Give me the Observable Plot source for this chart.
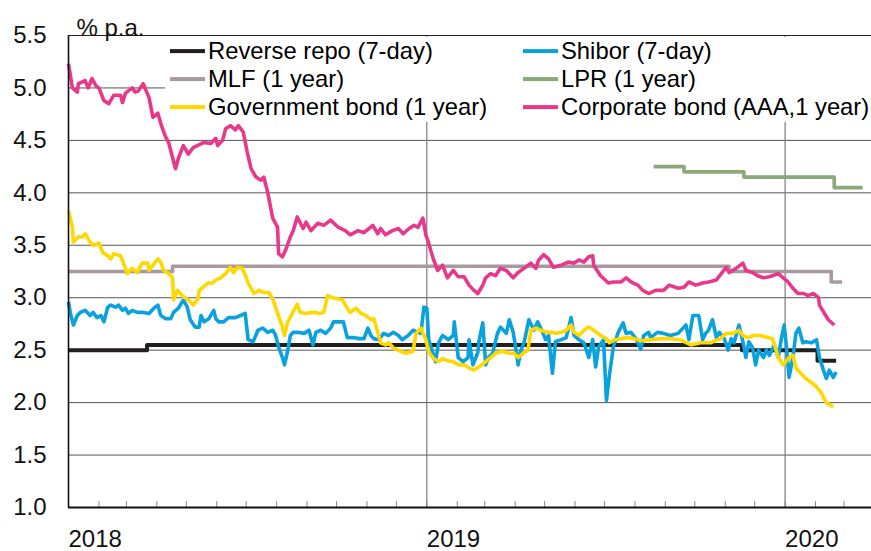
<!DOCTYPE html>
<html><head><meta charset="utf-8">
<script src="https://cdn.jsdelivr.net/npm/d3@7"></script>
<script src="https://cdn.jsdelivr.net/npm/@observablehq/plot@0.6"></script>
<style>
body{margin:0;background:#fff;font-family:"Liberation Sans",Arial,sans-serif;}
#wrap{position:relative;width:871px;height:551px;overflow:hidden;}
#legend{position:absolute;left:165px;top:37px;width:706px;height:85px;background:#fff;z-index:2;}
.item{position:absolute;display:flex;align-items:center;font-size:23.8px;color:#000;white-space:nowrap;line-height:1;transform:translateY(-50%);}
.sw{display:inline-block;width:35px;height:4px;margin-right:3px;}
</style></head><body><div id="wrap"><div id="legend"></div></div>
<script>
// ---------- data ----------
const yTicks = [1.0, 1.5, 2.0, 2.5, 3.0, 3.5, 4.0, 4.5, 5.0, 5.5];
const yearTicks = ["2018-01-01", "2019-01-01", "2020-01-01"];
const yearLines = ["2019-01-01", "2020-01-01"];
const xDomain = ["2018-01-01", "2020-03-29"];

const reverseRepo = [["2018-01-01",2.50],["2018-03-22",2.55],["2019-11-18",2.50],["2020-02-03",2.40],["2020-02-22",2.40]];
const mlf = [["2018-01-01",3.25],["2018-04-17",3.30],["2019-11-05",3.25],["2020-02-17",3.15],["2020-02-28",3.15]];
const lpr = [["2019-08-20",4.25],["2019-09-20",4.20],["2019-11-20",4.15],["2020-02-20",4.05],["2020-03-20",4.05]];

const shibor = [["2018-01-01",2.96],["2018-01-03",2.85],["2018-01-06",2.74],["2018-01-10",2.83],["2018-01-13",2.86],["2018-01-18",2.88],["2018-01-23",2.83],["2018-01-26",2.86],["2018-01-30",2.81],["2018-02-03",2.83],["2018-02-06",2.77],["2018-02-10",2.91],["2018-02-13",2.93],["2018-02-18",2.91],["2018-02-21",2.93],["2018-02-25",2.88],["2018-02-28",2.90],["2018-03-03",2.85],["2018-03-07",2.88],["2018-03-12",2.86],["2018-03-18",2.86],["2018-03-24",2.85],["2018-03-29",2.90],["2018-04-02",2.93],["2018-04-05",2.83],["2018-04-10",2.80],["2018-04-15",2.80],["2018-04-18",2.86],["2018-04-23",2.90],["2018-04-28",2.98],["2018-05-02",2.91],["2018-05-05",2.79],["2018-05-10",2.72],["2018-05-14",2.72],["2018-05-16",2.83],["2018-05-19",2.77],["2018-05-24",2.80],["2018-05-29",2.88],["2018-05-31",2.80],["2018-06-03",2.77],["2018-06-08",2.77],["2018-06-13",2.81],["2018-06-20",2.81],["2018-06-25",2.83],["2018-06-30",2.85],["2018-07-03",2.60],["2018-07-08",2.58],["2018-07-13",2.69],["2018-07-18",2.71],["2018-07-23",2.67],["2018-07-28",2.69],["2018-07-31",2.64],["2018-08-03",2.53],["2018-08-07",2.43],["2018-08-09",2.36],["2018-08-12",2.48],["2018-08-15",2.64],["2018-08-18",2.67],["2018-08-23",2.67],["2018-08-29",2.66],["2018-09-03",2.69],["2018-09-07",2.55],["2018-09-10",2.67],["2018-09-15",2.69],["2018-09-20",2.66],["2018-09-25",2.71],["2018-09-28",2.77],["2018-10-03",2.77],["2018-10-08",2.77],["2018-10-12",2.62],["2018-10-18",2.62],["2018-10-24",2.61],["2018-10-29",2.61],["2018-11-02",2.71],["2018-11-05",2.64],["2018-11-08",2.61],["2018-11-13",2.60],["2018-11-18",2.66],["2018-11-23",2.64],["2018-11-28",2.67],["2018-12-03",2.64],["2018-12-07",2.60],["2018-12-13",2.64],["2018-12-18",2.69],["2018-12-23",2.67],["2018-12-26",2.66],["2018-12-29",2.91],["2019-01-01",2.90],["2019-01-03",2.60],["2019-01-07",2.48],["2019-01-10",2.39],["2019-01-13",2.57],["2019-01-17",2.64],["2019-01-20",2.62],["2019-01-23",2.60],["2019-01-28",2.64],["2019-01-29",2.77],["2019-02-02",2.43],["2019-02-07",2.39],["2019-02-12",2.43],["2019-02-13",2.60],["2019-02-17",2.36],["2019-02-22",2.48],["2019-02-23",2.58],["2019-02-27",2.76],["2019-03-02",2.36],["2019-03-05",2.43],["2019-03-09",2.47],["2019-03-14",2.66],["2019-03-17",2.72],["2019-03-23",2.66],["2019-03-26",2.79],["2019-03-30",2.67],["2019-04-02",2.50],["2019-04-04",2.36],["2019-04-07",2.50],["2019-04-10",2.57],["2019-04-15",2.79],["2019-04-20",2.69],["2019-04-24",2.77],["2019-04-29",2.67],["2019-05-02",2.60],["2019-05-05",2.64],["2019-05-09",2.28],["2019-05-12",2.58],["2019-05-18",2.60],["2019-05-23",2.62],["2019-05-28",2.81],["2019-05-31",2.64],["2019-06-05",2.60],["2019-06-10",2.57],["2019-06-15",2.43],["2019-06-19",2.60],["2019-06-22",2.34],["2019-06-25",2.53],["2019-06-30",2.60],["2019-07-03",2.02],["2019-07-06",2.26],["2019-07-10",2.53],["2019-07-15",2.67],["2019-07-20",2.76],["2019-07-23",2.66],["2019-07-28",2.67],["2019-08-02",2.61],["2019-08-07",2.51],["2019-08-10",2.64],["2019-08-15",2.67],["2019-08-17",2.62],["2019-08-24",2.67],["2019-08-30",2.66],["2019-09-06",2.64],["2019-09-14",2.66],["2019-09-19",2.71],["2019-09-22",2.74],["2019-09-25",2.60],["2019-09-29",2.83],["2019-10-05",2.83],["2019-10-09",2.60],["2019-10-12",2.66],["2019-10-15",2.69],["2019-10-19",2.79],["2019-10-23",2.62],["2019-10-26",2.67],["2019-10-31",2.61],["2019-11-04",2.50],["2019-11-07",2.61],["2019-11-10",2.57],["2019-11-15",2.74],["2019-11-19",2.58],["2019-11-22",2.43],["2019-11-25",2.58],["2019-11-29",2.52],["2019-12-02",2.36],["2019-12-05",2.50],["2019-12-10",2.43],["2019-12-13",2.50],["2019-12-16",2.45],["2019-12-21",2.55],["2019-12-25",2.43],["2019-12-28",2.60],["2019-12-31",2.74],["2020-01-02",2.57],["2020-01-05",2.24],["2020-01-09",2.43],["2020-01-12",2.66],["2020-01-15",2.71],["2020-01-19",2.57],["2020-01-22",2.58],["2020-01-28",2.57],["2020-02-02",2.60],["2020-02-05",2.43],["2020-02-09",2.31],["2020-02-12",2.23],["2020-02-15",2.31],["2020-02-19",2.24],["2020-02-22",2.29]];

const govBond = [["2018-01-01",3.83],["2018-01-05",3.67],["2018-01-06",3.53],["2018-01-11",3.58],["2018-01-15",3.58],["2018-01-18",3.61],["2018-01-23",3.53],["2018-01-26",3.50],["2018-02-01",3.52],["2018-02-05",3.43],["2018-02-10",3.40],["2018-02-13",3.37],["2018-02-16",3.42],["2018-02-23",3.40],["2018-02-26",3.33],["2018-03-02",3.23],["2018-03-07",3.28],["2018-03-12",3.24],["2018-03-17",3.33],["2018-03-23",3.33],["2018-03-24",3.26],["2018-03-28",3.31],["2018-04-02",3.37],["2018-04-05",3.34],["2018-04-08",3.26],["2018-04-13",3.23],["2018-04-17",3.19],["2018-04-18",2.98],["2018-04-22",3.07],["2018-04-25",3.04],["2018-04-28",3.01],["2018-05-03",2.98],["2018-05-08",2.93],["2018-05-13",2.99],["2018-05-14",3.07],["2018-05-18",3.10],["2018-05-23",3.14],["2018-05-28",3.14],["2018-05-31",3.17],["2018-06-05",3.19],["2018-06-10",3.23],["2018-06-15",3.29],["2018-06-18",3.24],["2018-06-22",3.29],["2018-06-27",3.28],["2018-06-30",3.22],["2018-07-03",3.14],["2018-07-09",3.04],["2018-07-14",3.07],["2018-07-19",3.05],["2018-07-24",3.05],["2018-07-28",2.99],["2018-08-02",2.85],["2018-08-07",2.72],["2018-08-09",2.64],["2018-08-12",2.76],["2018-08-17",2.85],["2018-08-22",2.94],["2018-08-25",2.86],["2018-08-31",2.85],["2018-09-05",2.86],["2018-09-10",2.86],["2018-09-13",2.85],["2018-09-18",2.86],["2018-09-22",3.02],["2018-09-27",3.00],["2018-10-02",2.99],["2018-10-07",2.98],["2018-10-10",2.93],["2018-10-15",2.86],["2018-10-21",2.90],["2018-10-26",2.85],["2018-10-31",2.83],["2018-11-05",2.79],["2018-11-08",2.80],["2018-11-12",2.67],["2018-11-15",2.57],["2018-11-20",2.55],["2018-11-23",2.57],["2018-11-28",2.52],["2018-12-05",2.49],["2018-12-11",2.47],["2018-12-18",2.49],["2018-12-21",2.66],["2018-12-26",2.71],["2018-12-31",2.60],["2019-01-03",2.48],["2019-01-08",2.42],["2019-01-13",2.39],["2019-01-17",2.42],["2019-01-22",2.40],["2019-01-28",2.39],["2019-02-02",2.36],["2019-02-08",2.36],["2019-02-13",2.33],["2019-02-18",2.31],["2019-02-23",2.34],["2019-03-02",2.39],["2019-03-07",2.43],["2019-03-12",2.47],["2019-03-19",2.49],["2019-03-26",2.47],["2019-03-31",2.47],["2019-04-04",2.43],["2019-04-09",2.47],["2019-04-14",2.50],["2019-04-17",2.69],["2019-04-22",2.71],["2019-04-27",2.69],["2019-05-04",2.67],["2019-05-09",2.67],["2019-05-12",2.66],["2019-05-18",2.67],["2019-05-23",2.69],["2019-05-28",2.74],["2019-05-31",2.67],["2019-06-05",2.64],["2019-06-10",2.69],["2019-06-15",2.72],["2019-06-20",2.69],["2019-06-27",2.64],["2019-07-03",2.61],["2019-07-06",2.57],["2019-07-11",2.60],["2019-07-18",2.61],["2019-07-25",2.62],["2019-07-31",2.61],["2019-08-07",2.59],["2019-08-17",2.60],["2019-08-27",2.61],["2019-09-06",2.61],["2019-09-16",2.60],["2019-09-27",2.55],["2019-10-07",2.57],["2019-10-17",2.57],["2019-10-27",2.61],["2019-11-02",2.66],["2019-11-09",2.66],["2019-11-15",2.69],["2019-11-19",2.64],["2019-11-24",2.62],["2019-11-30",2.64],["2019-12-07",2.64],["2019-12-14",2.62],["2019-12-19",2.61],["2019-12-22",2.53],["2019-12-25",2.43],["2019-12-30",2.36],["2020-01-05",2.43],["2020-01-09",2.45],["2020-01-12",2.33],["2020-01-17",2.28],["2020-01-22",2.23],["2020-01-28",2.19],["2020-02-02",2.15],["2020-02-07",2.09],["2020-02-12",2.00],["2020-02-19",1.96]];

const corpBond = [["2018-01-01",5.23],["2018-01-05",5.00],["2018-01-10",4.96],["2018-01-11",5.04],["2018-01-18",5.07],["2018-01-21",5.00],["2018-01-25",5.09],["2018-01-29",5.02],["2018-02-01",5.00],["2018-02-06",4.88],["2018-02-11",4.85],["2018-02-16",4.93],["2018-02-23",4.93],["2018-02-25",4.86],["2018-02-28",4.95],["2018-03-07",5.00],["2018-03-10",4.96],["2018-03-13",4.97],["2018-03-18",5.04],["2018-03-24",4.91],["2018-03-28",4.72],["2018-04-02",4.76],["2018-04-05",4.66],["2018-04-10",4.53],["2018-04-13",4.48],["2018-04-20",4.23],["2018-04-23",4.33],["2018-04-28",4.45],["2018-05-03",4.37],["2018-05-08",4.43],["2018-05-19",4.48],["2018-05-26",4.47],["2018-05-31",4.52],["2018-06-02",4.45],["2018-06-07",4.50],["2018-06-10",4.61],["2018-06-15",4.64],["2018-06-20",4.60],["2018-06-23",4.64],["2018-06-28",4.58],["2018-07-02",4.39],["2018-07-06",4.23],["2018-07-11",4.15],["2018-07-16",4.12],["2018-07-19",4.15],["2018-07-23",4.00],["2018-07-28",3.76],["2018-08-02",3.67],["2018-08-03",3.42],["2018-08-07",3.39],["2018-08-10",3.45],["2018-08-15",3.58],["2018-08-18",3.64],["2018-08-22",3.77],["2018-08-28",3.66],["2018-08-31",3.72],["2018-09-05",3.64],["2018-09-12",3.71],["2018-09-18",3.69],["2018-09-25",3.74],["2018-10-03",3.67],["2018-10-10",3.64],["2018-10-15",3.60],["2018-10-23",3.64],["2018-10-29",3.62],["2018-11-07",3.69],["2018-11-12",3.61],["2018-11-15",3.66],["2018-11-20",3.60],["2018-11-27",3.64],["2018-12-03",3.66],["2018-12-08",3.61],["2018-12-14",3.66],["2018-12-19",3.69],["2018-12-23",3.67],["2018-12-28",3.76],["2018-12-31",3.60],["2019-01-03",3.52],["2019-01-05",3.45],["2019-01-08",3.36],["2019-01-12",3.26],["2019-01-17",3.31],["2019-01-22",3.19],["2019-01-28",3.26],["2019-02-02",3.20],["2019-02-08",3.20],["2019-02-13",3.12],["2019-02-18",3.07],["2019-02-22",3.04],["2019-02-27",3.12],["2019-03-02",3.19],["2019-03-07",3.23],["2019-03-12",3.21],["2019-03-17",3.28],["2019-03-23",3.26],["2019-03-30",3.19],["2019-04-04",3.24],["2019-04-10",3.28],["2019-04-17",3.33],["2019-04-22",3.28],["2019-04-25",3.36],["2019-04-30",3.41],["2019-05-05",3.37],["2019-05-10",3.29],["2019-05-18",3.31],["2019-05-25",3.34],["2019-05-31",3.33],["2019-06-05",3.36],["2019-06-10",3.34],["2019-06-15",3.39],["2019-06-19",3.40],["2019-06-20",3.31],["2019-06-27",3.21],["2019-07-05",3.14],["2019-07-10",3.15],["2019-07-18",3.15],["2019-07-23",3.19],["2019-07-28",3.15],["2019-08-04",3.12],["2019-08-09",3.07],["2019-08-15",3.04],["2019-08-22",3.07],["2019-08-30",3.07],["2019-09-05",3.12],["2019-09-14",3.09],["2019-09-20",3.10],["2019-09-25",3.15],["2019-10-02",3.12],["2019-10-09",3.14],["2019-10-15",3.15],["2019-10-23",3.17],["2019-10-28",3.23],["2019-11-02",3.29],["2019-11-05",3.24],["2019-11-12",3.28],["2019-11-19",3.33],["2019-11-22",3.26],["2019-11-29",3.24],["2019-12-04",3.21],["2019-12-10",3.19],["2019-12-16",3.20],["2019-12-25",3.23],["2019-12-30",3.19],["2020-01-04",3.15],["2020-01-09",3.09],["2020-01-14",3.04],["2020-01-20",3.04],["2020-01-24",3.02],["2020-01-30",3.04],["2020-02-04",3.00],["2020-02-05",2.93],["2020-02-10",2.85],["2020-02-14",2.79],["2020-02-20",2.74]];

const seriesNames = ["Reverse repo (7-day)", "MLF (1 year)", "Government bond (1 year)", "Shibor (7-day)", "LPR (1 year)", "Corporate bond (AAA,1 year)"];
const seriesColors = ["#231f20", "#a8999f", "#ffd800", "#0aa1df", "#8aa878", "#e8388b"];
const seriesData = [reverseRepo, mlf, govBond, shibor, lpr, corpBond];
const stepSeries = [true, true, false, false, true, false];
// draw order (back to front)
const drawOrder = [1, 0, 4, 3, 2, 5];

// ---------- chart ----------
const toRows = (arr) => arr.map(([d, v]) => ({date: new Date(d), value: v}));
const W = 871, H = 551, mT = 35, mB = 44, mL = 68, mR = 0;
const plotH = H - mT - mB;
const monthTicks = d3.utcMonth.range(new Date("2018-02-01"), new Date("2020-04-01"));
const font = '"Liberation Sans", Arial, sans-serif';

const lineMarks = drawOrder.map(i => Plot.line(toRows(seriesData[i]), {
  x: "date", y: "value", stroke: seriesColors[i],
  strokeWidth: i === 0 ? 4 : 3.6,
  strokeLinejoin: "round", strokeLinecap: "butt",
  curve: stepSeries[i] ? "step-after" : "linear"
}));

const chart = Plot.plot({
  width: W, height: H,
  marginTop: mT, marginBottom: mB, marginLeft: mL, marginRight: mR,
  style: {fontFamily: font, background: "#fff", overflow: "visible"},
  x: {type: "utc", domain: xDomain.map(d => new Date(d))},
  y: {domain: [1, 5.5]},
  marks: [
    Plot.ruleY(yTicks, {stroke: "#555", strokeWidth: 1}),
    Plot.ruleX(yearLines.map(d => new Date(d)), {stroke: "#7a7a7a", strokeWidth: 1.2}),
    Plot.ruleX(monthTicks, {stroke: "#888", strokeWidth: 1, insetTop: plotH - 6}),
    ...lineMarks,
    Plot.ruleY([5.5], {stroke: "#222", strokeWidth: 1.2}),
    Plot.ruleY([1], {stroke: "#111", strokeWidth: 2}),
    Plot.ruleX([new Date(xDomain[0])], {stroke: "#111", strokeWidth: 1.6}),
    Plot.axisY({ticks: yTicks, tickSize: 0, tickPadding: 22, tickFormat: d3.format(".1f"),
      fontSize: 24, fill: "#111", label: null}),
    Plot.axisX({ticks: yearTicks.map(d => new Date(d)), tickSize: 0, tickPadding: 22,
      tickFormat: d3.utcFormat("%Y"), textAnchor: "start", fontSize: 24, fill: "#111", label: null}),
    Plot.text(["% p.a."], {frameAnchor: "top-left", text: d => d, textAnchor: "start",
      dx: 8, dy: -17, fontSize: 24, fill: "#111"})
  ]
});
const wrap = document.getElementById("wrap");
wrap.insertBefore(chart, wrap.firstChild);

// ---------- legend ----------
const legend = document.getElementById("legend");
const colLeft = [5, 358];
const rowTop = [14, 42, 70];
seriesNames.forEach((name, i) => {
  const col = Math.floor(i / 3), row = i % 3;
  const item = document.createElement("div");
  item.className = "item";
  item.style.left = colLeft[col] + "px";
  item.style.top = rowTop[row] + "px";
  const sw = document.createElement("span");
  sw.className = "sw";
  sw.style.background = seriesColors[i];
  const tx = document.createElement("span");
  tx.textContent = name;
  item.appendChild(sw); item.appendChild(tx);
  legend.appendChild(item);
});
</script></body></html>
